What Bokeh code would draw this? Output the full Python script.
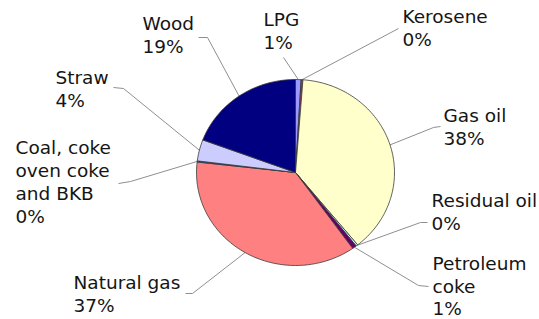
import numpy as np
from bokeh.plotting import figure
from bokeh.models import Range1d
from bokeh.core.properties import value
from bokeh.embed import file_html
from bokeh.resources import INLINE

# ---- data (clockwise from 12 o'clock) ----
categories = ["LPG", "Kerosene", "Gas oil", "Residual oil", "Petroleum coke",
              "Natural gas", "Coal, coke oven coke and BKB", "Straw", "Wood"]
shares = [0.9, 0.3, 38.0, 0.3, 0.7, 36.6, 0.2, 3.7, 19.3]
label_lines = [["LPG"], ["Kerosene"], ["Gas oil"], ["Residual oil"],
               ["Petroleum", "coke"], ["Natural gas"],
               ["Coal, coke", "oven coke", "and BKB"], ["Straw"], ["Wood"]]
colors = ["#9999FF", "#993366", "#FFFFCC", "#CCFFFF", "#660066",
          "#FF8080", "#0066CC", "#CCCCFF", "#000080"]

# ---- layout (picture pixel coordinates) ----
W, H = 539, 319
CX, CY, RX, RY = 295, 172, 99, 93
TEXT_DY = -8  # compensation for the renderer's baseline offset
label_anchor = {  # left x, baselines of the lines
    "LPG": (263, [27, 50]), "Kerosene": (402, [24, 47]),
    "Gas oil": (443, [123, 146]),
    "Residual oil": (431, [208, 231]),
    "Petroleum coke": (432, [271, 294, 316]),
    "Natural gas": (73, [290, 313]),
    "Coal, coke oven coke and BKB": (15, [155, 178, 201, 224]),
    "Straw": (55, [85, 108]), "Wood": (142, [31, 54]),
}
leader_start = {  # points from label towards the slice
    "LPG": [(283, 57)], "Kerosene": [(398, 28)],
    "Gas oil": [(440, 126), (433, 127)],
    "Residual oil": [(427, 222), (420, 222)],
    "Petroleum coke": [(428, 286), (418, 285)],
    "Natural gas": [(185, 293), (192, 293)],
    "Coal, coke oven coke and BKB": [(118, 183), (130, 181)],
    "Straw": [(113, 87), (123, 88)],
    "Wood": [(198, 37), (207, 37)],
}

p = figure(width=W, height=H, output_backend="svg", toolbar_location=None,
           x_range=Range1d(0, W), y_range=Range1d(H, 0), min_border=0,
           background_fill_color="white", border_fill_color="white")
p.axis.visible = False
p.grid.visible = False
p.outline_line_color = None

total = float(sum(shares))
frac = np.array(shares) / total
ends = np.cumsum(frac) * 2 * np.pi
starts = ends - frac * 2 * np.pi
mids = (starts + ends) / 2

# leader lines
for cat, m in zip(categories, mids):
    ex = CX + RX * np.sin(m)
    ey = CY - RY * np.cos(m)
    pts = leader_start[cat] + [(ex, ey)]
    p.line([q[0] for q in pts], [q[1] for q in pts], line_color="#8f8f8f",
           line_width=1)

# slices
xs, ys = [], []
for s, e in zip(starts, ends):
    n = max(3, int((e - s) / (2 * np.pi) * 240))
    t = np.linspace(s, e, n)
    xs.append([CX] + list(CX + RX * np.sin(t)))
    ys.append([CY] + list(CY - RY * np.cos(t)))
p.patches(xs, ys, fill_color=colors, line_color="#3a3a3a", line_width=0.8)

# labels
tx, ty, tt = [], [], []
for cat, lines, v in zip(categories, label_lines, shares):
    x0, bases = label_anchor[cat]
    for ln, yb in zip(lines + [f"{round(v)}%"], bases):
        tx.append(x0)
        ty.append(yb + TEXT_DY)
        tt.append(ln)
p.text(tx, ty, text=tt, text_font=value("DejaVu Sans"), text_font_size="18.5px",
       text_color="#151515", text_baseline="alphabetic", text_align="left")

open("out.html", "w").write(file_html(p, INLINE))
